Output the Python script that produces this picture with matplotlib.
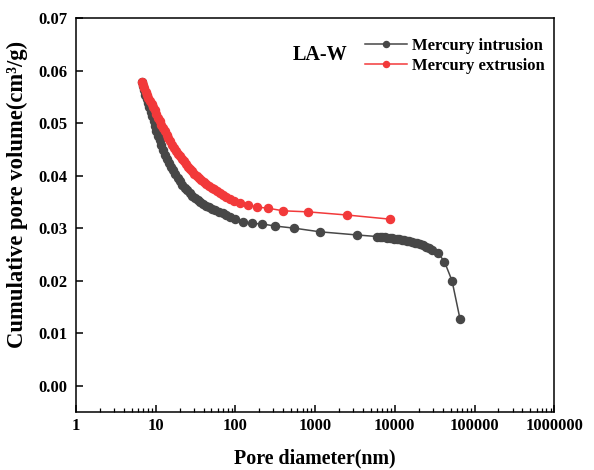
import numpy as np
import matplotlib
matplotlib.use("Agg")
import matplotlib.pyplot as plt
from matplotlib.ticker import FixedLocator, FuncFormatter, NullFormatter

plt.rcParams['font.family'] = ['Liberation Serif', 'DejaVu Serif']
plt.rcParams['font.weight'] = 'bold'

# mercury intrusion (pore diameter nm, cumulative volume cm3/g)
d_in = [6.7, 6.9, 7.1, 7.4, 7.7, 8.0, 8.3, 8.6, 9.0, 9.4, 9.8, 10.2, 10.7, 11.2,
        11.8, 12.4, 13.1, 13.8, 14.6, 15.5, 16.5, 17.6, 18.8, 20.1, 21.5, 23.0,
        24.7, 26.6, 28.7, 31.0, 33.5, 36.3, 39.4, 42.9, 46.8, 51.2, 56.2, 62.0,
        69, 77, 86, 100, 124, 161, 216, 314, 543, 1150, 3360,
        6000, 6500, 7000, 7500, 8000, 8600, 9200, 9900, 10600, 11400, 12200,
        13100, 14100, 15200, 16400, 17700, 19100, 20700, 22400, 24300, 26500,
        29000, 34800, 42000, 52200, 65800]
v_in = [.0578, .0570, .0562, .0554, .0546, .0538, .0530, .0522, .0513, .0504,
        .0494, .0485, .0476, .0467, .0458, .0449, .0440, .0432, .0424, .0417,
        .0410, .0403, .0396, .0389, .0383, .0377, .0372, .0367, .0362, .0358,
        .0354, .0350, .0346, .0343, .0340, .0337, .0334, .0331, .0328, .0325,
        .0321, .0317, .0312, .0309, .0308, .0304, .0300, .0293, .0287,
        .0284, .0284, .0283, .0283, .0282, .0282, .0281, .0280, .0280, .0279,
        .0278, .0277, .0276, .0275, .0274, .0272, .0271, .0269, .0267, .0265,
        .0262, .0258, .0253, .0236, .0200, .0127]

# mercury extrusion
d_ex = [6.7, 6.9, 7.2, 7.5, 7.8, 8.1, 8.5, 8.9, 9.3, 9.7, 10.2, 10.7, 11.2,
        11.8, 12.4, 13.0, 13.7, 14.4, 15.2, 16.0, 16.9, 17.8, 18.8, 19.9, 21.1,
        22.4, 23.8, 25.3, 26.9, 28.7, 30.6, 32.7, 35.0, 37.5, 40.2, 43.2, 46.5,
        50.1, 54.1, 58.6, 63.6, 69.5, 76.2, 84.5, 96, 114, 144, 187, 256, 396,
        813, 2510, 8800]
v_ex = [.0579, .0573, .0566, .0559, .0553, .0548, .0542, .0536, .0530, .0524,
        .0517, .0510, .0504, .0497, .0490, .0484, .0477, .0471, .0465, .0459,
        .0453, .0447, .0442, .0437, .0432, .0427, .0422, .0417, .0412, .0408,
        .0404, .0400, .0396, .0392, .0388, .0384, .0380, .0377, .0374, .0370,
        .0367, .0363, .0360, .0356, .0352, .0348, .0344, .0340, .0338, .0333,
        .0331, .0325, .0317]

x_major = [1, 10, 100, 1000, 10000, 100000, 1000000]
y_major = [0.00, 0.01, 0.02, 0.03, 0.04, 0.05, 0.06, 0.07]

fig = plt.figure(figsize=(5.94, 4.70), dpi=100)
ax = fig.add_axes([0.128, 0.1234, 0.805, 0.8383])

ax.plot(d_in, v_in, color='#474747', marker='o', markersize=5.8, lw=1.1,
        label='Mercury intrusion')
ax.plot(d_ex, v_ex, color='#f2393a', marker='o', markersize=5.8, lw=1.1,
        label='Mercury extrusion')

ax.set_xscale('log')
ax.set_xlim(1, 1e6)
ax.set_ylim(-0.005, 0.07)
ax.xaxis.set_major_locator(FixedLocator(x_major))
ax.xaxis.set_minor_locator(FixedLocator([m * b for b in x_major[:-1] for m in range(2, 10)]))
ax.xaxis.set_major_formatter(FuncFormatter(lambda x, p: '%d' % round(x)))
ax.xaxis.set_minor_formatter(NullFormatter())
ax.yaxis.set_major_locator(FixedLocator(y_major))
ax.yaxis.set_major_formatter(FuncFormatter(lambda y, p: '%.2f' % y))

ax.tick_params(axis='both', which='major', direction='in', length=5, width=1.1,
               labelsize=12)
ax.tick_params(axis='both', which='minor', direction='in', length=3, width=0.9)
ax.tick_params(axis='x', pad=4)
ax.tick_params(axis='y', pad=6)
for s in ax.spines.values():
    s.set_linewidth(1.1)

ax.set_xlabel('Pore diameter(nm)', fontsize=14.4, fontweight='bold', labelpad=11)
ax.set_ylabel('Cumulative pore volume(cm³/g)', fontsize=16.3, fontweight='bold')
ax.yaxis.set_label_coords(-0.1, 0.553)

ax.text(0.453, 0.905, 'LA-W', transform=ax.transAxes, fontsize=14.5,
        fontweight='bold', va='center', ha='left')
ax.legend(loc='upper left', bbox_to_anchor=(0.605, 0.95), frameon=False,
          fontsize=12, handlelength=2.5, handletextpad=0.3, labelspacing=0.25,
          borderpad=0, borderaxespad=0, markerscale=0.75)

fig.savefig('out.png', dpi=100)
